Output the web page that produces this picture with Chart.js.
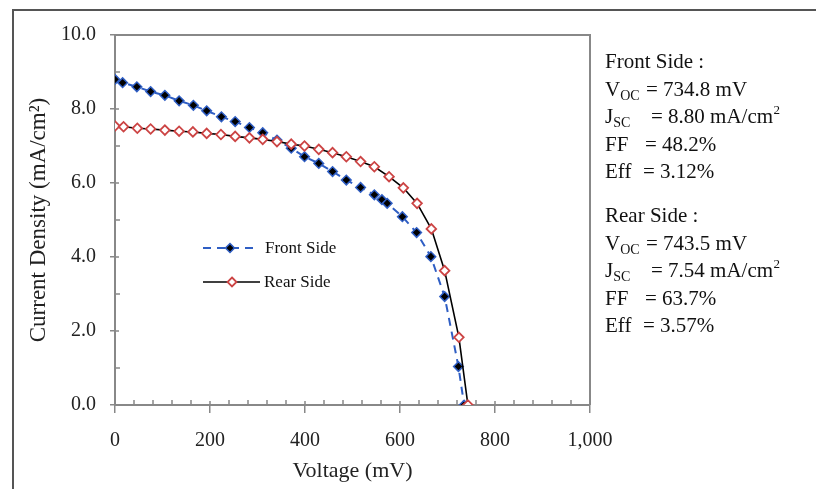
<!DOCTYPE html>
<html><head><meta charset="utf-8">
<script src="https://cdn.jsdelivr.net/npm/chart.js@4/dist/chart.umd.min.js"></script>
<style>html,body{margin:0;padding:0;background:#fff}#wrap{width:816px;height:489px;position:relative}</style>
</head><body><div id="wrap"><canvas id="c" width="816" height="489"></canvas></div>
<script>
// ---- data ----
const frontV = [0,16,46,75,105,135,165,193,224,253,283,311,341,371,399,429,458,487,517,546,562,573,605,635,665,694,723,735];
const frontJ = [8.80,8.71,8.60,8.47,8.37,8.22,8.10,7.95,7.79,7.66,7.50,7.36,7.16,6.94,6.71,6.53,6.31,6.08,5.88,5.68,5.55,5.45,5.09,4.66,4.01,2.93,1.04,0.00];
const rearV = [0,18,47,75,105,135,164,193,223,253,283,311,341,371,399,429,458,487,517,546,577,607,636,666,694,724,743];
const rearJ = [7.54,7.52,7.48,7.46,7.43,7.40,7.38,7.34,7.31,7.26,7.22,7.18,7.12,7.05,7.00,6.91,6.82,6.71,6.58,6.44,6.17,5.87,5.45,4.76,3.63,1.83,0.00];
const seriesNames = ['Front Side', 'Rear Side'];
const xTitle = 'Voltage (mV)';
const yTitle = 'Current Density (mA/cm\u00B2)';
const frontInfoTitle = 'Front Side :';
const frontInfo = [['V','OC','= 734.8 mV',''],['J','SC','= 8.80 mA/cm','2'],['FF','','= 48.2%',''],['Eff','','= 3.12%','']];
const rearInfoTitle = 'Rear Side :';
const rearInfo = [['V','OC','= 743.5 mV',''],['J','SC','= 7.54 mA/cm','2'],['FF','','= 63.7%',''],['Eff','','= 3.57%','']];

const SERIF = "'Liberation Serif','Times New Roman',serif";
const BLUE = '#2f5ec4', RED = '#cc4444';

function pts(xs, ys){ return xs.map((x,i)=>({x:x, y:ys[i]})); }

function diamond(ctx, x, y, r, fill, stroke, lw){
  ctx.beginPath();
  ctx.moveTo(x, y-r); ctx.lineTo(x+r, y); ctx.lineTo(x, y+r); ctx.lineTo(x-r, y); ctx.closePath();
  ctx.fillStyle = fill; ctx.fill();
  ctx.lineWidth = lw; ctx.strokeStyle = stroke; ctx.stroke();
}

const decor = {
  id: 'decor',
  beforeDraw(chart){
    const ctx = chart.ctx;
    ctx.save(); ctx.fillStyle = '#fff'; ctx.fillRect(0,0,chart.width,chart.height); ctx.restore();
  },
  afterDraw(chart){
    const ctx = chart.ctx, a = chart.chartArea;
    const xs = chart.scales.x, ys = chart.scales.y;
    ctx.save();
    // outer frame
    ctx.strokeStyle = '#555'; ctx.lineWidth = 2;
    ctx.beginPath(); ctx.moveTo(13, 489); ctx.lineTo(13, 10); ctx.lineTo(816, 10); ctx.stroke();
    // plot area top/right border
    ctx.strokeStyle = '#888'; ctx.lineWidth = 2;
    ctx.beginPath(); ctx.moveTo(a.left, a.top); ctx.lineTo(a.right, a.top); ctx.lineTo(a.right, a.bottom); ctx.stroke();
    // minor and inner-major ticks
    ctx.lineWidth = 1.5; ctx.strokeStyle = '#888';
    ctx.beginPath();
    for (let v = 0; v <= 1000; v += 40){
      const px = xs.getPixelForValue(v);
      const len = (v % 200 === 0) ? 4 : 5;
      ctx.moveTo(px, a.bottom); ctx.lineTo(px, a.bottom - len);
    }
    for (let v = 0; v <= 10; v += 1){
      const py = ys.getPixelForValue(v);
      const len = (v % 2 === 0) ? 4 : 5;
      ctx.moveTo(a.left, py); ctx.lineTo(a.left + len, py);
    }
    ctx.stroke();
    // legend
    const ds = chart.data.datasets;
    ctx.lineWidth = 2; ctx.strokeStyle = BLUE; ctx.setLineDash([8,6]);
    ctx.beginPath(); ctx.moveTo(203, 248); ctx.lineTo(259, 248); ctx.stroke();
    ctx.setLineDash([]);
    diamond(ctx, 230, 248, 4.5, '#000', BLUE, 1.5);
    ctx.lineWidth = 1.6; ctx.strokeStyle = '#000';
    ctx.beginPath(); ctx.moveTo(203, 282); ctx.lineTo(260, 282); ctx.stroke();
    diamond(ctx, 232, 282, 4.5, '#fff', RED, 1.8);
    ctx.fillStyle = '#111'; ctx.font = '17px ' + SERIF; ctx.textBaseline = 'middle'; ctx.textAlign = 'left';
    ctx.fillText(ds[0].label, 265, 249);
    ctx.fillText(ds[1].label, 264, 283);
    // info box
    const drawBlock = (title, rows, y0, eqXs) => {
      ctx.textBaseline = 'alphabetic';
      ctx.font = '21px ' + SERIF;
      ctx.fillText(title, 605, y0);
      rows.forEach((r, i) => {
        const y = y0 + 27.6 * (i + 1);
        ctx.font = '21px ' + SERIF;
        ctx.fillText(r[0], 605, y);
        const w = ctx.measureText(r[0]).width;
        if (r[1]) { ctx.font = '14px ' + SERIF; ctx.fillText(r[1], 605 + w, y + 4); }
        ctx.font = '21px ' + SERIF;
        ctx.fillText(r[2], eqXs[i], y);
        if (r[3]) {
          const w2 = ctx.measureText(r[2]).width;
          ctx.font = '13px ' + SERIF; ctx.fillText(r[3], eqXs[i] + w2 + 0.5, y - 9);
        }
      });
    };
    ctx.fillStyle = '#111';
    drawBlock(frontInfoTitle, frontInfo, 68, [646, 651, 645, 643]);
    drawBlock(rearInfoTitle, rearInfo, 222, [646, 651, 645, 643]);
    ctx.restore();
  }
};

new Chart(document.getElementById('c'), {
  type: 'scatter',
  data: {
    datasets: [
      {
        label: seriesNames[0], data: pts(frontV, frontJ), showLine: true,
        borderColor: BLUE, borderWidth: 2, borderDash: [8,6], tension: 0,
        pointStyle: 'rectRot', pointRadius: 4.8, pointBackgroundColor: '#000',
        pointBorderColor: BLUE, pointBorderWidth: 1.5, order: 1
      },
      {
        label: seriesNames[1], data: pts(rearV, rearJ), showLine: true,
        borderColor: '#000', borderWidth: 1.6, tension: 0,
        pointStyle: 'rectRot', pointRadius: 4.8, pointBackgroundColor: '#fff',
        pointBorderColor: RED, pointBorderWidth: 1.8, order: 0
      }
    ]
  },
  options: {
    responsive: false, animation: false, devicePixelRatio: 1,
    layout: { padding: { left: 0, right: 226, top: 35, bottom: 0 } },
    plugins: { legend: { display: false }, tooltip: { enabled: false } },
    scales: {
      x: {
        type: 'linear', min: 0, max: 1000,
        afterFit(s){ s.height = 84; },
        ticks: { stepSize: 200, autoSkip: false, maxRotation: 0, padding: 16, color: '#222',
          font: { family: SERIF, size: 20 }, callback: v => v.toLocaleString('en-US') },
        grid: { drawOnChartArea: false, drawTicks: true, tickLength: 8, color: '#888', lineWidth: 1.5 },
        border: { display: true, color: '#888', width: 2 },
        title: { display: true, text: xTitle, color: '#222', font: { family: SERIF, size: 22 }, padding: { top: 0, bottom: 5 } }
      },
      y: {
        type: 'linear', min: 0, max: 10,
        afterFit(s){ s.width = 115; },
        ticks: { stepSize: 2, autoSkip: false, padding: 14, color: '#222',
          font: { family: SERIF, size: 20 }, callback: v => v.toFixed(1) },
        grid: { drawOnChartArea: false, drawTicks: true, tickLength: 5, color: '#888', lineWidth: 1.5 },
        border: { display: true, color: '#888', width: 2 },
        title: { display: true, text: yTitle, color: '#222', font: { family: SERIF, size: 23 }, padding: { top: 25, bottom: 0 } }
      }
    }
  },
  plugins: [decor]
});
</script></body></html>
